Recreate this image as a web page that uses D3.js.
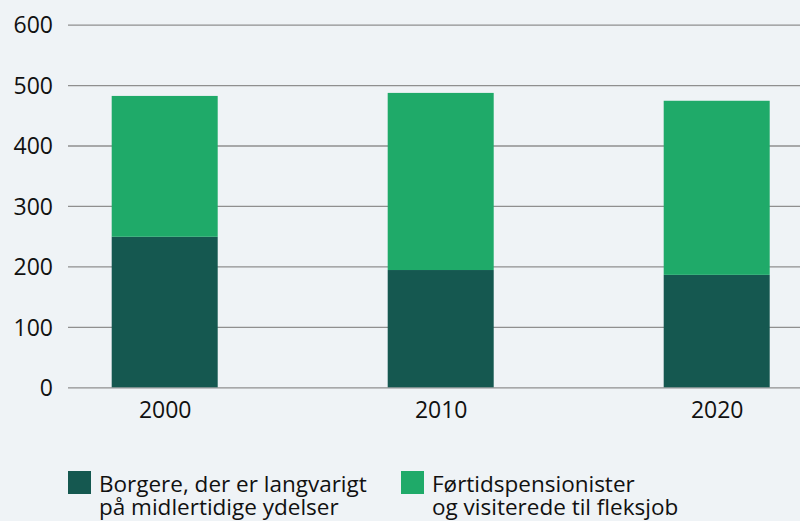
<!DOCTYPE html>
<html><head><meta charset="utf-8">
<script src="https://cdn.jsdelivr.net/npm/d3@7"></script>
<style>
html,body{margin:0;padding:0;background:#eff3f6;}
svg{display:block;}
text{font-family:"Open Sans",sans-serif;fill:#111;}
</style></head>
<body>
<svg id="c" width="800" height="521"></svg>
<script>
const years = ["2000", "2010", "2020"];
const borgere = [249, 194, 186];
const fortid = [233, 293, 288];
const yTicks = [0, 100, 200, 300, 400, 500, 600];
const seriesNames = ["Borgere, der er langvarigt|på midlertidige ydelser", "Førtidspensionister|og visiterede til fleksjob"];
const colors = ["#155850", "#1faa69"];

const svg = d3.select("#c");
const y = d3.scaleLinear().domain([0, 600]).range([387.3, 24.6]);
const x = d3.scalePoint().domain(years).range([164.7, 716.7]);
const barW = 106;

// gridlines
const yAxis = d3.axisLeft(y).tickValues(yTicks).tickSize(0).tickPadding(15);
const gy = svg.append("g").attr("transform", "translate(68,0)").call(yAxis);
gy.select(".domain").remove();
gy.selectAll(".tick line").attr("x2", 800 - 68).attr("stroke", "#8f8f8f").attr("stroke-width", 1.3);
gy.selectAll(".tick text").style("font-size", "23px").style("font-family", "'Open Sans',sans-serif").attr("fill", "#111").attr("dy", "0.36em");

// stacked bars
const table = years.map((yr, i) => ({ year: yr, a: borgere[i], b: fortid[i] }));
const stack = d3.stack().keys(["a", "b"])(table);
svg.append("g").selectAll("g").data(stack).join("g")
  .attr("fill", (d, i) => colors[i])
  .selectAll("rect").data(d => d).join("rect")
  .attr("x", d => x(d.data.year) - barW / 2)
  .attr("width", barW)
  .attr("y", d => y(d[1]))
  .attr("height", d => y(d[0]) - y(d[1]));

// x axis labels
const xAxis = d3.axisBottom(x).tickSize(0).tickPadding(0);
const gx = svg.append("g").attr("transform", "translate(0,387.3)").call(xAxis);
gx.select(".domain").remove();
gx.selectAll(".tick text").style("font-size", "23px").style("font-family", "'Open Sans',sans-serif").attr("fill", "#111").attr("dy", null).attr("y", 31);

// legend
const legX = [68, 401];
seriesNames.forEach((name, i) => {
  const g = svg.append("g").attr("transform", `translate(${legX[i]},471)`);
  g.append("rect").attr("width", 23).attr("height", 23).attr("fill", colors[i]);
  name.split("|").forEach((ln, j) => {
    g.append("text").attr("x", 31).attr("y", 21 + j * 23)
      .style("font-size", "22.5px").text(ln);
  });
});
</script>
</body></html>
